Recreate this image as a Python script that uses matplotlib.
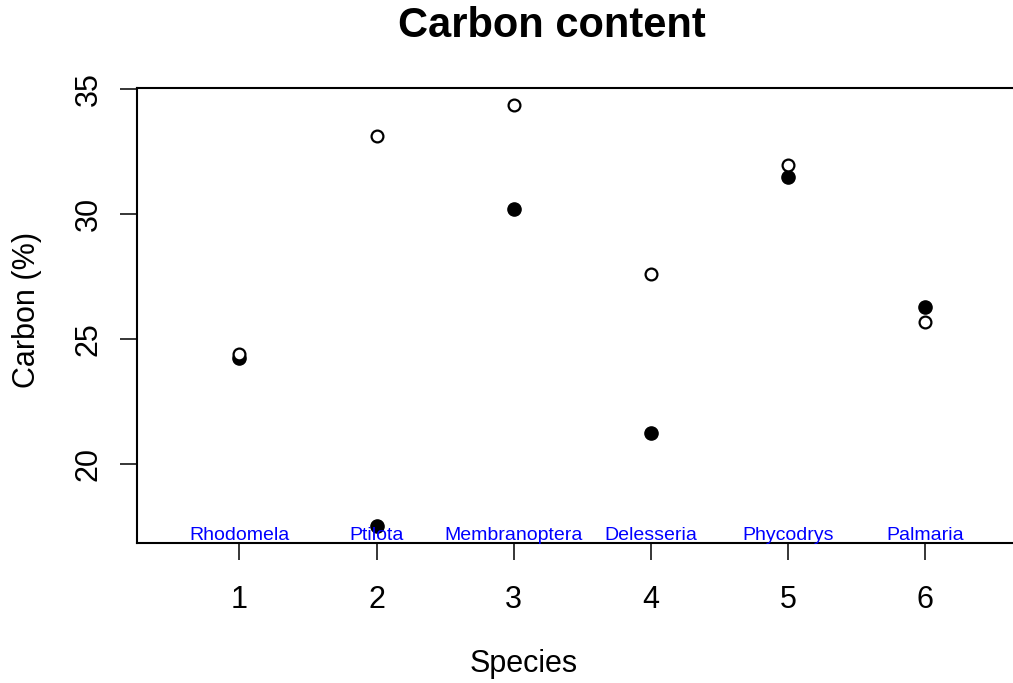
"""
Carbon content per species: two measurements per species (open vs filled).
"""

import matplotlib

matplotlib.use("Agg")
import matplotlib.pyplot as plt

plt.rcParams["font.family"] = ["Liberation Sans", "DejaVu Sans"]

species = ["Rhodomela", "Ptilota", "Membranoptera", "Delesseria", "Phycodrys", "Palmaria"]
species_idx = [1, 2, 3, 4, 5, 6]
carbon_open = [24.38, 33.13, 34.34, 27.61, 31.96, 25.67]
carbon_filled = [24.22, 17.52, 30.19, 21.24, 31.49, 26.27]
y_ticks = [20, 25, 30, 35]

fig = plt.figure(figsize=(10.13, 6.83), dpi=100)
ax = fig.add_axes([137 / 1013, 1 - 543 / 683, 1 - 137 / 1013, (543 - 88) / 683])

ax.plot(species_idx, carbon_filled, "o", color="black", markersize=9.5, linestyle="none")
ax.plot(
    species_idx,
    carbon_open,
    "o",
    markerfacecolor="white",
    markeredgecolor="black",
    markeredgewidth=1.6,
    markersize=8.5,
    linestyle="none",
)

for x, name in zip(species_idx, species):
    ax.text(x, 16.95, name, color="blue", fontsize=14, ha="center", va="baseline")

ax.set_xlim(0.254, 6.64)
ax.set_ylim(16.83, 35.04)
ax.set_xticks(species_idx)
ax.set_yticks(y_ticks)
ax.set_yticklabels([str(v) for v in y_ticks], rotation=90, va="center")
ax.tick_params(axis="both", length=12, width=1.1, labelsize=22, direction="out")
ax.tick_params(axis="x", pad=18)
ax.tick_params(axis="y", pad=12)

ax.spines["right"].set_visible(False)
for side in ["left", "top", "bottom"]:
    ax.spines[side].set_linewidth(1.5)

fig.text(552 / 1013, 1 - 26 / 683, "Carbon content", fontsize=30, fontweight="bold",
         ha="center", va="center")
fig.text(524 / 1013, 1 - 664 / 683, "Species", fontsize=22, ha="center", va="center")
fig.text(27 / 1013, 1 - 310 / 683, "Carbon (%)", fontsize=22, rotation=90,
         ha="center", va="center")

plt.savefig("out.png", dpi=100)
plt.close()
